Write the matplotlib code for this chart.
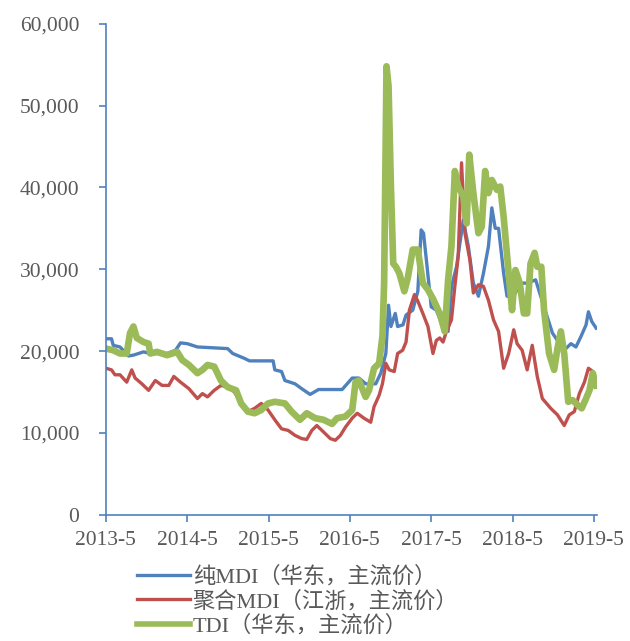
import matplotlib
matplotlib.use("Agg")
import matplotlib.pyplot as plt
from matplotlib.ticker import FuncFormatter

# months counted from 2013-5, prices in yuan/ton
mdi_m = [0.0, 0.84, 1.09, 2.09, 3.33, 4.07, 5.56, 6.55, 9.04, 10.28, 11.02, 12.02,
         13.51, 17.97, 18.72, 20.46, 21.2, 24.68, 24.93, 25.92, 26.42, 27.9, 28.9,
         30.14, 31.38, 34.86, 36.35, 37.34, 38.33, 39.82, 40.57, 41.31, 41.71, 42.06,
         42.7, 43.05, 43.84, 44.29, 45.28, 46.03, 46.52, 46.87, 47.27, 48.01, 48.76,
         49.75, 50.5, 50.99, 51.74, 52.73, 53.48, 54.22, 54.97, 55.71, 56.45, 56.95,
         57.45, 57.94, 58.69, 59.19, 60.18, 61.17, 62.16, 63.41, 64.65, 65.89, 66.63,
         67.87, 68.62, 69.36, 70.11, 70.85, 71.2, 71.7, 72.34]
mdi_v = [21500, 21500, 20700, 20500, 19400, 19500, 19900, 19700, 19700, 20100, 21000, 20900,
         20500, 20300, 19700, 19100, 18800, 18800, 17700, 17500, 16400, 16000, 15400,
         14700, 15300, 15300, 16700, 16700, 16000, 16000, 17300, 19700, 25600, 23000,
         24600, 23000, 23200, 24400, 25000, 27300, 34800, 34400, 31300, 25400, 25000,
         23000, 22400, 27900, 30300, 36000, 32800, 28300, 26700, 29500, 32800, 37500,
         35000, 35000, 29500, 26700, 26700, 28300, 28300, 28700, 25400, 22200, 21300,
         20300, 20900, 20500, 21800, 23200, 24800, 23600, 22800]

pmdi_m = [0.0, 0.84, 1.34, 2.09, 3.08, 3.82, 4.32, 5.31, 6.31, 7.3, 8.29, 9.29, 10.03,
          11.02, 12.26, 13.51, 14.25, 15.0, 15.99, 16.98, 17.97, 18.97, 19.96, 20.95,
          21.95, 22.94, 23.93, 24.93, 25.92, 26.91, 27.9, 28.9, 29.64, 30.39, 31.13,
          32.13, 33.12, 33.86, 34.61, 35.35, 36.35, 37.09, 38.08, 39.08, 39.57, 40.32,
          40.81, 41.31, 41.81, 42.55, 43.05, 43.79, 44.29, 44.79, 45.53, 46.03, 46.77,
          47.52, 48.26, 48.76, 49.26, 49.75, 50.25, 50.99, 51.49, 51.99, 52.48, 52.98,
          53.72, 54.22, 54.97, 55.71, 56.45, 57.2, 57.94, 58.69, 59.43, 60.18, 60.68,
          61.42, 62.16, 62.91, 63.65, 64.4, 65.64, 66.63, 67.63, 68.37, 69.12, 69.86,
          70.61, 71.2, 71.85, 72.49]
pmdi_v = [17900, 17700, 17100, 17100, 16200, 17700, 16700, 16000, 15200, 16400, 15800, 15800, 16900,
          16200, 15400, 14200, 14800, 14400, 15200, 15800, 15600, 15000, 13600, 12600,
          13000, 13600, 12800, 11600, 10500, 10300, 9700, 9300, 9200, 10300, 10900,
          10100, 9300, 9100, 9700, 10700, 11800, 12400, 11800, 11300, 13200, 14600,
          16000, 18500, 17700, 17500, 19700, 20100, 21100, 25000, 26900, 26100, 24600,
          23000, 19700, 21300, 21600, 21100, 22400, 23800, 27900, 31600, 43000, 34400,
          31100, 27100, 28100, 27900, 26200, 23800, 22400, 17900, 19700, 22600, 20900,
          20100, 17700, 20700, 16900, 14200, 13000, 12200, 10900, 12200, 12600, 14800,
          16200, 17900, 17500, 15600]

tdi_m = [0.0, 1.09, 2.09, 3.08, 3.57, 4.07, 4.57, 5.56, 6.31, 6.55, 7.55, 9.04, 10.53,
         11.27, 12.26, 13.51, 14.25, 15.0, 15.99, 16.98, 17.97, 19.22, 19.96, 20.95,
         21.95, 22.94, 23.93, 24.93, 26.42, 27.41, 28.65, 29.64, 30.88, 32.13, 33.37,
         34.11, 35.35, 36.35, 36.84, 37.34, 38.33, 38.83, 39.57, 40.32, 40.81, 41.06,
         41.41, 41.71, 42.06, 42.4, 42.8, 43.3, 44.04, 44.54, 45.28, 46.03, 46.77,
         47.52, 48.26, 49.26, 50.0, 50.5, 50.99, 51.49, 51.99, 52.73, 53.23, 53.62,
         54.22, 54.97, 55.46, 55.96, 56.45, 56.95, 57.7, 58.19, 58.69, 59.43, 59.93,
         60.43, 61.07, 61.67, 62.16, 62.66, 63.26, 63.65, 64.25, 64.65, 65.39, 66.14,
         66.63, 67.13, 67.63, 68.22, 68.87, 69.61, 70.21, 70.85, 71.35, 71.85, 72.34]
tdi_v = [20300, 20100, 19700, 19700, 22200, 23000, 21600, 21100, 20900, 19700, 19900, 19500, 19900,
         18900, 18300, 17300, 17700, 18300, 18100, 16400, 15600, 15200, 13600, 12600,
         12400, 12800, 13600, 13800, 13600, 12600, 11600, 12400, 11800, 11600, 11100,
         11800, 12000, 12800, 16200, 16400, 14400, 15200, 17900, 18500, 21800, 28300,
         54800, 52400, 40100, 30700, 30300, 29500, 27300, 28900, 32400, 32400, 28300,
         27500, 26400, 24600, 22400, 28700, 32800, 42000, 40100, 38900, 35600, 44000,
         39300, 34400, 35200, 42000, 39300, 40900, 39700, 40100, 36400, 29500, 25000,
         29900, 28300, 24600, 24600, 30700, 32000, 30300, 30300, 25000, 19700, 17700,
         20300, 22400, 19700, 13800, 14000, 13400, 13000, 14200, 15200, 17300, 15800]

labels = ["纯MDI（华东，主流价）", "聚合MDI（江浙，主流价）", "TDI（华东，主流价）"]
xtick_labels = ["2013-5", "2014-5", "2015-5", "2016-5", "2017-5", "2018-5", "2019-5"]

axis_col = "#4F81BD"
text_col = "#595959"

fig = plt.figure(figsize=(6.3, 6.41), dpi=100)
ax = fig.add_axes([0.168, 0.197, 0.78, 0.766])

l1, = ax.plot(mdi_m, mdi_v, color="#4F81BD", lw=2.4, solid_joinstyle="round")
l2, = ax.plot(pmdi_m, pmdi_v, color="#C0504D", lw=2.4, solid_joinstyle="round")
l3, = ax.plot(tdi_m, tdi_v, color="#9BBB59", lw=4.8, solid_joinstyle="round")

ax.set_xlim(0, 72.5)
ax.set_ylim(0, 60000)
ax.set_xticks(range(0, 73, 12))
ax.set_xticklabels(xtick_labels)
ax.set_yticks(range(0, 60001, 10000))
ax.yaxis.set_major_formatter(FuncFormatter(lambda v, p: "{:,.0f}".format(v)))

for s in ["top", "right"]:
    ax.spines[s].set_visible(False)
for s in ["left", "bottom"]:
    ax.spines[s].set_color(axis_col)
    ax.spines[s].set_linewidth(1.2)

ax.tick_params(axis="both", colors=axis_col, labelcolor=text_col, length=5, width=1.2,
               labelsize=15.5)
ax.tick_params(axis="y", pad=14)
ax.tick_params(axis="x", pad=7)
for t in ax.get_xticklabels() + ax.get_yticklabels():
    t.set_family("Liberation Serif")

leg = fig.legend([l1, l2, l3], labels, loc="upper left", bbox_to_anchor=(0.2, 0.134),
                 frameon=False, borderpad=0, handlelength=2.4, handletextpad=0.1,
                 labelspacing=0.14, prop={"family": ["Liberation Serif", "Noto Sans CJK SC"],
                                          "size": 16})
for t in leg.get_texts():
    t.set_color(text_col)
leg.get_lines()[2].set_linewidth(4)

fig.savefig("out.png", dpi=100)
